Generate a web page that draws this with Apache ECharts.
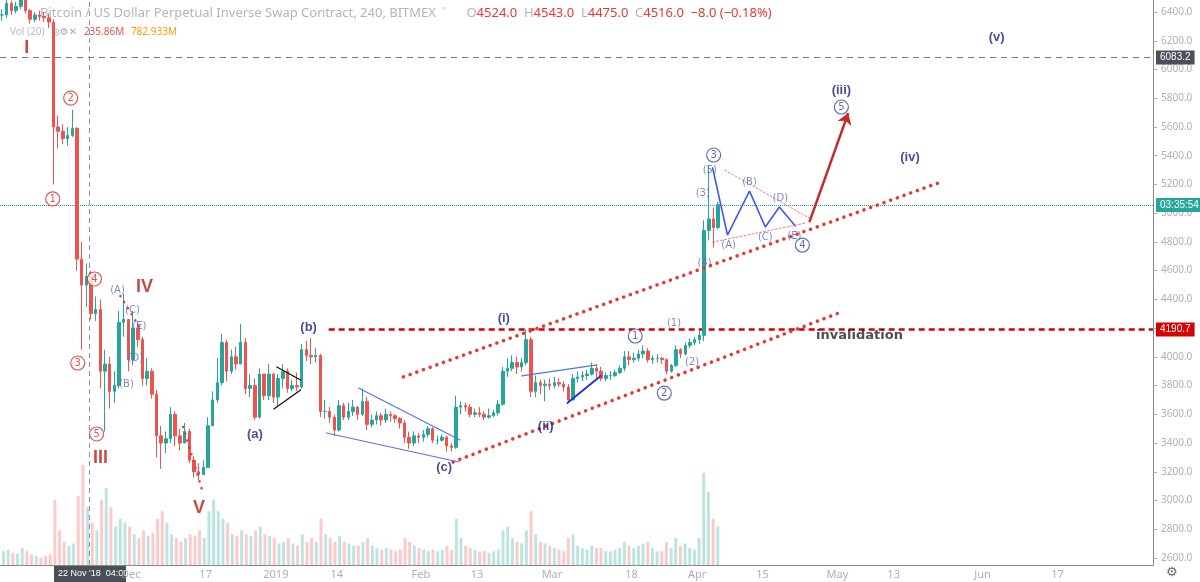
<!DOCTYPE html>
<html lang="en">
<head>
  <meta charset="UTF-8">
  <title>XBTUSD 240</title>
  <style>
    html, body { margin: 0; padding: 0; background: #fff; }
    #chart { width: 1200px; height: 582px; }
  </style>
</head>
<body>
  <div id="chart"></div>
  <script src="https://cdn.jsdelivr.net/npm/echarts@6/dist/echarts.min.js"></script>
  <script>
    // daily bars from 2018-11-03 to 2019-04-05
    var firstDay = '2018-11-03';
    var closes = [6380,6460,6410,6440,6520,6410,6350,6380,6370,6360,6330,
      5600,5570,5520,5540,5590,4680,4500,4560,4300,4330,3900,3950,3760,3800,4240,4260,3980,
      4200,4120,3850,3900,3740,3450,3400,3430,3600,3450,3400,3480,3280,3200,3180,3230,3520,3700,3820,4100,3900,4000,3950,4100,3780,3800,3580,3880,3730,3880,3720,
      3850,3900,3780,3800,3790,4050,4010,4000,4010,3620,3620,3580,3490,3660,3580,3620,3650,3600,3690,3530,3560,3590,3560,3600,3590,3570,3540,3440,3400,3450,3440,
      3460,3500,3420,3420,3440,3380,3370,3650,3660,3650,3600,3610,3600,3580,3590,3610,3670,3900,3920,3960,3930,3960,4120,3760,3820,3800,3810,3800,
      3820,3810,3790,3700,3850,3860,3870,3880,3920,3900,3850,3870,3870,3890,3920,4000,3980,3990,4020,4040,3980,3990,3990,3980,3900,3940,4050,4020,4080,4100,4120,
      4150,4880,4960,4900,5060];
    var highs = [6420,6490,6480,6470,6560,6530,6420,6400,6410,6400,6390,
      6350,5680,5620,5600,5720,5600,4800,4650,4600,4420,4400,4050,4000,3900,4320,4440,4260,
      4320,4250,4140,3990,3920,3770,3520,3480,3650,3620,3500,3540,3500,3310,3260,3280,3580,3760,3990,4160,4120,4050,4070,4230,4130,3880,3850,3920,3880,3950,3890,
      3880,3950,3920,3840,3890,4090,4110,4130,4060,4020,3700,3650,3600,3700,3680,3680,3700,3660,3780,3720,3600,3620,3610,3640,3620,3600,3580,3560,3480,3480,3470,
      3490,3520,3510,3450,3460,3450,3400,3730,3690,3680,3670,3640,3650,3620,3640,3630,3700,3930,3990,4010,4000,3990,4190,4140,3870,3840,3840,3850,
      3860,3850,3830,3810,3880,3900,3900,3910,3960,3950,3930,3890,3900,3910,3940,4040,4040,4030,4050,4080,4060,4010,4020,4000,3990,3950,4080,4060,4100,4130,4140,
      4180,4950,5330,5040,5080];
    var lows = [6340,6360,6380,6390,6420,6390,6320,6330,6340,6330,6290,
      5200,5450,5480,5470,5530,4600,4050,4350,4260,4250,3780,3480,3640,3680,3780,4140,3900,
      3940,4070,3800,3800,3710,3300,3220,3330,3400,3380,3350,3400,3260,3160,3140,3180,3230,3520,3680,3800,3830,3880,3910,3950,3740,3720,3560,3570,3700,3700,3680,
      3650,3780,3750,3760,3760,3780,3970,3950,3960,3580,3570,3540,3450,3480,3560,3560,3590,3560,3590,3490,3510,3530,3520,3540,3550,3540,3500,3400,3360,3380,3400,
      3410,3440,3400,3390,3410,3340,3340,3360,3600,3620,3580,3580,3580,3560,3570,3580,3590,3660,3860,3900,3880,3900,3940,3720,3720,3740,3690,3770,
      3780,3790,3760,3680,3700,3820,3830,3840,3870,3850,3830,3830,3840,3860,3880,3900,3940,3960,3970,3990,3960,3950,3960,3950,3880,3890,3930,3990,4010,4060,4080,
      4090,4110,4810,4760,4890];
    var volumes = [18,20,16,15,22,18,14,12,10,12,14,
      85,45,30,25,28,90,130,75,55,45,85,100,75,50,60,55,50,
      40,35,45,38,42,60,70,55,40,35,30,35,40,38,45,35,70,85,70,60,55,40,38,45,40,38,45,50,40,38,35,
      28,30,35,28,25,40,30,35,30,60,40,35,30,38,30,28,25,25,30,35,25,22,20,22,20,18,20,35,30,25,22,
      20,18,20,18,20,25,20,60,35,25,22,20,18,18,16,18,20,45,50,35,30,28,45,70,40,30,28,25,
      22,20,18,35,40,25,22,20,25,22,22,18,18,20,22,30,25,22,25,28,30,22,18,18,30,22,35,25,28,22,20,
      35,120,95,60,50];

    var xTicks = ['2018-12-01','2018-12-17','2019-01-01','2019-01-14','2019-02-01','2019-02-13','2019-03-01',
      '2019-03-18','2019-04-01','2019-04-15','2019-05-01','2019-05-13','2019-06-01','2019-06-17'];
    var xTickNames = ['Dec','17','2019','14','Feb','13','Mar','18','Apr','15','May','13','Jun','17'];
    var yTicks = [2600,2800,3000,3200,3400,3600,3800,4000,4200,4400,4600,4800,5000,5200,5400,5600,5800,6000,6200,6400];

    // wave labels [time, price, text]
    var redRoman = [['2018-11-08 19:00',6149,'I'],['2018-11-24 13:00',3296,'III'],['2018-12-03 22:00',4486,'IV'],['2018-12-15 14:00',2948,'V']];
    var redCircled = [['2018-11-14 08:00',5099,'1'],['2018-11-18 04:00',5801,'2'],['2018-11-19 16:00',3957,'3'],['2018-11-23 06:00',4542,'4'],['2018-11-23 17:00',3463,'5']];
    var blueSmall = [['2018-11-28 04:00',4465,'(A)'],['2018-11-30 02:00',3811,'(B)'],['2018-12-01 09:00',4326,'(C)'],['2018-12-02 00:00',3992,'(D)'],['2018-12-02 20:00',4215,'(E)'],
      ['2019-03-27 02:00',4236,'(1)'],['2019-03-30 22:00',3964,'(2)'],['2019-04-02 05:00',5140,'(3)'],['2019-04-02 15:00',4653,'(4)'],['2019-04-03 17:00',5300,'(5)'],
      ['2019-04-07 18:00',4778,'(A)'],['2019-04-12 05:00',5217,'(B)'],['2019-04-15 14:00',4834,'(C)'],['2019-04-18 19:00',5106,'(D)'],['2019-04-21 19:00',4841,'(E)']];
    var blueBold = [['2018-12-27 13:00',3463,'(a)'],['2019-01-08 00:00',4208,'(b)'],['2019-02-05 23:00',3233,'(c)'],['2019-02-18 17:00',4270,'(i)'],
      ['2019-02-27 16:00',3519,'(ii)'],['2019-05-01 20:00',5857,'(iii)'],['2019-05-16 12:00',5391,'(iv)'],['2019-06-04 00:00',6226,'(v)']];
    var blueCircled = [['2019-03-18 19:00',4145,'1'],['2019-03-25 00:00',3748,'2'],['2019-04-04 13:00',5405,'3'],['2019-04-23 12:00',4778,'4'],['2019-05-01 20:00',5739,'5']];
    var blackText = [['2019-05-05 17:00',4145,'invalidation']];

    // drawn lines
    var upperChannel = [['2019-01-28 06:00',3860],['2019-05-22 12:00',5210]];
    var lowerChannel = [['2019-02-07 21:00',3268],['2019-05-01 05:00',4305]];
    var redDotA = [['2018-11-28 19:00',4423],['2018-12-03 06:00',4187]];
    var redDotB = [['2018-12-12 05:00',3512],['2018-12-16 06:00',3073]];
    var wedgeUpper = [['2019-01-18 16:00',3783],['2019-02-09 08:00',3421]];
    var wedgeLower = [['2019-01-11 20:00',3470],['2019-02-09 02:00',3268]];
    var triUpper = [['2019-01-01 05:00',3929],['2019-01-06 07:00',3839]];
    var triLower = [['2018-12-31 14:00',3637],['2019-01-06 07:00',3769]];
    var flatUpper = [['2019-02-22 13:00',3867],['2019-03-10 07:00',3943]];
    var flatLower = [['2019-03-04 07:00',3679],['2019-03-11 09:00',3867]];
    var zigzag = [['2019-04-04 08:00',5314],['2019-04-07 12:00',4848],['2019-04-12 05:00',5154],['2019-04-15 14:00',4904],['2019-04-18 14:00',5043],['2019-04-22 00:00',4911]];
    var triThinUpper = [['2019-04-06 22:00',5300],['2019-04-25 00:00',4966]];
    var triThinLower = [['2019-04-04 08:00',4799],['2019-04-24 07:00',4932]];
    var arrowPath = [['2019-04-25 00:00',4938],['2019-05-03 07:00',5697]];

    var invalidation = 4190.7, crossPrice = 6083.2, lastPrice = 5057;
    var xMin = '2018-11-03 01:30', xMax = '2019-07-07 10:00';
    var yMin = 2551, yMax = 6484;

    var UP = '#26a69a', DOWN = '#ef5350';
    var candles = [], vols = [];
    var day0 = new Date(firstDay + 'T12:00:00').getTime();
    for (var i = 0; i < closes.length; i++) {
      var t = day0 + i * 86400000;
      var o = i ? closes[i - 1] : closes[0];
      var c = closes[i];
      candles.push([t, o, c, Math.min(lows[i], o, c), Math.max(highs[i], o, c)]);
      vols.push({ value: [t, volumes[i]], itemStyle: { color: c >= o ? 'rgba(38,166,154,0.3)' : 'rgba(239,83,80,0.3)' } });
    }

    function toTime(s) { return new Date(s.replace(' ', 'T')).getTime(); }
    function pts(arr) { return arr.map(function (p) { return [toTime(p[0]), p[1]]; }); }

    function labels(name, arr, style) {
      return {
        name: name, type: 'scatter', symbolSize: 0, silent: true, z: 10,
        data: arr.map(function (p) { return [toTime(p[0]), p[1], p[2]]; }),
        label: Object.assign({ show: true, position: 'inside', fontFamily: 'DejaVu Sans',
          formatter: function (d) { return d.value[2]; } }, style)
      };
    }
    function circled(name, arr, color) {
      return {
        name: name, type: 'scatter', symbol: 'circle', symbolSize: 14, silent: true, z: 10,
        itemStyle: { color: '#fff', borderColor: color, borderWidth: 1.2 },
        data: arr.map(function (p) { return [toTime(p[0]), p[1], p[2]]; }),
        label: { show: true, position: 'inside', color: color, fontSize: 10, fontFamily: 'DejaVu Sans',
          formatter: function (d) { return d.value[2]; } }
      };
    }
    function path(arr, color, width, type) {
      return {
        type: 'line', data: pts(arr), symbol: 'none', silent: true, z: 8,
        lineStyle: { color: color, width: width, type: type || 'solid', cap: 'round' }
      };
    }
    var dots = [0.1, 7];

    var chart = echarts.init(document.getElementById('chart'));
    var option = {
      animation: false,
      backgroundColor: '#fff',
      grid: [
        { left: 0, right: 47, top: 0, bottom: 17 },
        { left: 0, right: 47, top: 365, bottom: 17 }
      ],
      xAxis: [{
        type: 'time', min: toTime(xMin), max: toTime(xMax),
        axisLine: { lineStyle: { color: '#888' } },
        axisTick: { show: false },
        splitLine: { show: false },
        axisLabel: { show: false }
      }, {
        type: 'time', gridIndex: 1, min: toTime(xMin), max: toTime(xMax), show: false
      }],
      yAxis: [{
        type: 'value', position: 'right', min: yMin, max: yMax,
        axisLine: { show: true, lineStyle: { color: '#888' } },
        axisTick: { show: true, customValues: yTicks, length: 4, lineStyle: { color: '#aaa' } },
        splitLine: { show: false },
        axisLabel: {
          customValues: yTicks, color: '#b0b0b0', fontSize: 10, fontFamily: 'Noto Sans', margin: 8,
          formatter: function (v) { return v.toFixed(1); }
        }
      }, {
        type: 'value', gridIndex: 1, min: 0, max: 260, show: false
      }],
      series: [
        {
          type: 'bar', xAxisIndex: 1, yAxisIndex: 1, data: vols, barWidth: 3, silent: true
        },
        {
          // date labels under the time axis
          type: 'scatter', symbolSize: 0, silent: true, clip: false,
          data: xTicks.map(function (d, k) { return [toTime(d + ' 00:00'), yMin, xTickNames[k]]; }),
          label: { show: true, position: 'bottom', distance: 4, color: '#9a9a9a', fontSize: 11, fontFamily: 'Noto Sans',
            formatter: function (d) { return d.value[2]; } }
        },
        {
          type: 'candlestick', data: candles, barMaxWidth: 3, z: 5,
          itemStyle: { color: UP, color0: DOWN, borderColor: UP, borderColor0: DOWN, borderWidth: 1 },
          markLine: {
            symbol: 'none', silent: true,
            data: [
              { yAxis: crossPrice, lineStyle: { color: '#777', type: [6, 5], width: 1 },
                label: { show: true, position: 'end', formatter: '6083.2', color: '#fff', backgroundColor: '#4a4f5a',
                  padding: [2, 4], fontSize: 10, distance: 3 } },
              { yAxis: lastPrice, lineStyle: { color: '#26a69a', type: 'dotted', width: 1 },
                label: { show: true, position: 'end', formatter: '03:35:54', color: '#fff', backgroundColor: '#26a69a',
                  padding: [2, 4], fontSize: 10, distance: 3 } },
              [{ coord: [toTime('2019-01-12 07:00'), invalidation], lineStyle: { color: '#d50000', type: [6, 4], width: 2.5 } },
               { coord: [toTime(xMax), invalidation],
                 label: { show: true, position: 'end', formatter: '4190.7', color: '#fff', backgroundColor: '#d50000',
                   padding: [2, 4], fontSize: 10, distance: 3 } }],
              { xAxis: toTime('2018-11-22 04:00'), lineStyle: { color: '#8a97a8', type: [5, 4], width: 1 }, label: { show: false } }
            ]
          }
        },
        path(upperChannel, '#e53935', 3.5, dots),
        path(lowerChannel, '#e53935', 3.5, dots),
        path(redDotA, '#e53935', 2.5, dots),
        path(redDotB, '#e53935', 2.5, dots),
        path(wedgeUpper, '#5b73e8', 1.2),
        path(wedgeLower, '#5b73e8', 1.2),
        path(triUpper, '#111', 1.3),
        path(triLower, '#111', 1.3),
        path(flatUpper, '#4a7be0', 1.3),
        path(flatLower, '#2233dd', 2),
        path(zigzag, '#4455ee', 1.6),
        path(triThinUpper, '#f08080', 1, [2, 2]),
        path(triThinLower, '#f08080', 1, [2, 2]),
        {
          type: 'lines', coordinateSystem: 'cartesian2d', silent: true, z: 9,
          symbol: ['none', 'arrow'], symbolSize: 11,
          lineStyle: { color: '#c62828', width: 2.5, opacity: 1 },
          data: [{ coords: pts(arrowPath) }]
        },
        labels('roman', redRoman, { color: '#b71c1c', fontSize: 18, fontWeight: 'bold', fontFamily: 'Liberation Sans' }),
        circled('redCircled', redCircled, '#d32f2f'),
        labels('blueSmall', blueSmall, { color: '#5c6bc0', fontSize: 10 }),
        labels('blueBold', blueBold, { color: '#1a237e', fontSize: 13, fontWeight: 'bold', fontFamily: 'Liberation Sans' }),
        circled('blueCircled', blueCircled, '#3949ab'),
        labels('black', blackText, { color: '#222', fontSize: 13, fontWeight: 'bold' })
      ],
      graphic: [
        {
          type: 'text', left: 40, top: 7,
          style: {
            text: '{t|Bitcoin / US Dollar Perpetual Inverse Swap Contract, 240, BITMEX  \u02c5}      {g|O}{r|4524.0}  {g|H}{r|4543.0}  {g|L}{r|4475.0}  {g|C}{r|4516.0}  {r|\u22128.0 (\u22120.18%)}',
            rich: {
              t: { fontSize: 13, fill: '#b5b5b5', fontFamily: 'Noto Sans' },
              g: { fontSize: 13, fill: '#b5b5b5', fontFamily: 'Noto Sans' },
              r: { fontSize: 13, fill: '#e53935', fontFamily: 'Noto Sans' }
            }
          }
        },
        {
          type: 'text', left: 10, top: 26,
          style: {
            text: '{g|Vol (20)}  {b|\u25ce\u2699\u2715}  {r|235.86M}  {o|782.933M}',
            rich: {
              g: { fontSize: 10, fill: '#bbb', fontFamily: 'Noto Sans' },
              b: { fontSize: 10, fill: '#aaa', fontFamily: 'DejaVu Sans' },
              r: { fontSize: 10, fill: '#ef5350', fontFamily: 'Noto Sans' },
              o: { fontSize: 10, fill: '#ff9800', fontFamily: 'Noto Sans' }
            }
          }
        },
        {
          type: 'group', left: 54, top: 566, z: 100,
          children: [
            { type: 'rect', shape: { x: 0, y: 0, width: 72, height: 16 }, style: { fill: '#4a4f5a' } },
            { type: 'text', x: 4, y: 3, style: { text: "22 Nov '18  04:00", fill: '#fff', fontSize: 9, fontFamily: 'Liberation Sans' } }
          ]
        },
        {
          type: 'text', left: 1166, top: 566,
          style: { text: '\u2699', fill: '#666', fontSize: 13, fontFamily: 'DejaVu Sans' }
        }
      ]
    };
    chart.setOption(option);
  </script>
</body>
</html>
